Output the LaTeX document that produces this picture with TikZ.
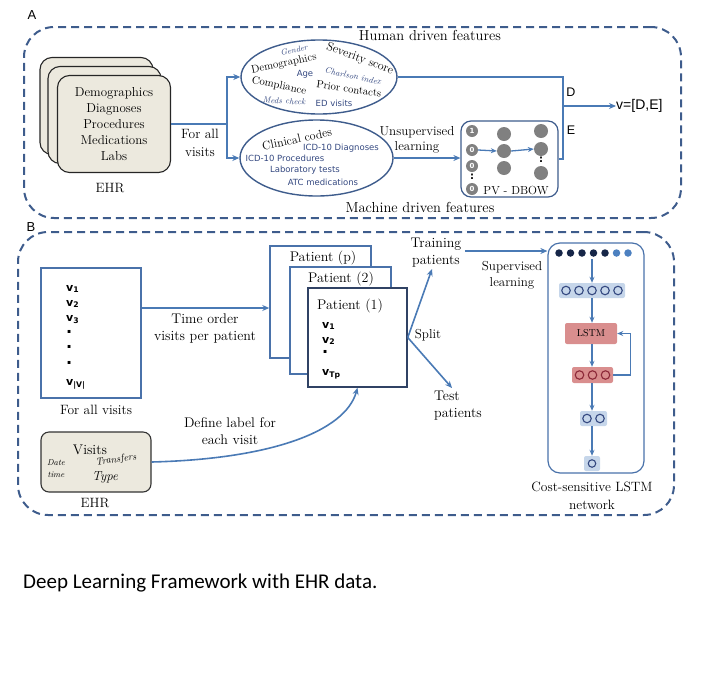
\documentclass[tikz,border=0pt]{standalone}
\usepackage{fontspec}
\usetikzlibrary{arrows.meta,shapes.geometric}
\newfontfamily\dvfont{DejaVu Sans}
\newfontfamily\libfont{Liberation Sans}
\newfontfamily\capfont{Carlito}
\definecolor{frameblue}{RGB}{62,92,140}
\definecolor{lineblue}{RGB}{74,122,181}
\definecolor{txtblue}{RGB}{52,72,128}
\definecolor{beige}{RGB}{236,233,222}
\definecolor{boxblue}{RGB}{198,214,234}
\definecolor{boxpink}{RGB}{217,142,142}
\definecolor{navy}{RGB}{22,38,72}
\definecolor{dotblue}{RGB}{76,128,192}
\definecolor{darkred}{RGB}{140,40,56}
\definecolor{pborder}{RGB}{74,114,170}
\definecolor{pdark}{RGB}{48,66,100}
\newcommand\fs[2]{\fontsize{#1}{#2}\selectfont}
\begin{document}
\begin{tikzpicture}[x=1pt,y=-1pt,
  dashframe/.style={draw=frameblue,line width=2pt,dash pattern=on 8pt off 5pt,rounded corners=30pt,inner sep=0pt},
  conn/.style={draw=lineblue,line width=1.6pt,-{Stealth[length=7pt,width=6pt]}},
  plain/.style={draw=lineblue,line width=1.6pt},
  ehrbox/.style={draw=black!85,line width=1.1pt,fill=beige,rounded corners=12pt,minimum width=113pt,minimum height=97pt,inner sep=0pt},
  feat/.style={ellipse,draw=frameblue,line width=1.4pt,inner sep=0pt},
  bt/.style={text=txtblue,font=\dvfont\fs{8.5}{10},inner sep=0.3pt},
  bi/.style={text=txtblue,font=\itshape\fs{8.5}{10},inner sep=0.3pt},
  st/.style={font=\fs{11}{13},inner sep=0.3pt},
  graydot/.style={circle,fill=black!50,minimum size=12pt,inner sep=0pt,text=white,font=\dvfont\bfseries\fs{7}{7}},
  midot/.style={circle,fill=black!50,minimum size=14pt,inner sep=0pt},
  vdots/.style={font=\dvfont\bfseries\fs{10}{10},inner sep=0pt},
  pbox/.style={draw=pborder,line width=1.5pt,fill=white,inner sep=0pt},
  vis/.style={font=\dvfont\bfseries\fs{11}{12},anchor=west,inner sep=0pt},
  bigdot/.style={font=\dvfont\bfseries\fs{16}{16},anchor=west,inner sep=0pt},
  lay/.style={rounded corners=2pt,inner sep=0pt},
  neur/.style={circle,minimum size=8.5pt,inner sep=0pt,line width=1.1pt},
  ndot/.style={circle,minimum size=7.5pt,inner sep=0pt}
]
\useasboundingbox (0,0) rectangle (706,675);

% ---------------- Panel A ----------------
\node[dashframe,minimum width=657pt,minimum height=191pt] (frameA) at (352.5,122.5) {};
\node[font=\libfont\fs{13}{15}] (labA) at (32,15) {A};

\node[ehrbox] (ehrback) at (96.5,106) {};
\node[ehrbox] (ehrmid) at (104.5,115) {};
\node[ehrbox,align=center,font=\fs{13}{15.8}] (ehrfront) at (114,124) {Demographics\\Diagnoses\\Procedures\\Medications\\Labs};
\node[font=\fs{13.5}{16}] (ehrlab) at (110,188) {EHR};

\node[feat,minimum width=156pt,minimum height=74pt] (ellH) at (319,77) {};
\node[feat,minimum width=153pt,minimum height=76pt] (ellM) at (316.5,158) {};

\coordinate (splitA) at (227,124);
\draw[plain] (ehrfront.east) -- (splitA);
\draw[conn] (splitA) |- (ellH.west);
\draw[conn] (splitA) |- (ellM.west);
\node[align=center,font=\fs{13.5}{18}] (forall) at (200,143) {For all\\visits};

% human features
\node[bi,rotate=12,font=\itshape\fs{8}{9}] (gender) at (294,50) {Gender};
\node[st,rotate=12] (demog) at (284,64) {Demographics};
\node[bt] (age) at (305,74) {Age};
\node[font=\fs{12}{14},rotate=-21,inner sep=0.3pt] (sev) at (360,59) {Severity score};
\node[bi,rotate=-12] (charl) at (353,76) {Charlson index};
\node[st,rotate=-11,font=\fs{10.8}{13}] (compl) at (279,86) {Compliance};
\node[st,rotate=-8,font=\fs{10.6}{13}] (prior) at (349,89) {Prior contacts};
\node[bi,rotate=-3] (meds) at (284,101) {Meds check};
\node[bt] (edv) at (334,103) {ED visits};
\node[font=\fs{14.5}{17}] (human) at (430,35) {Human driven features};

% machine features
\node[font=\fs{12}{14},rotate=12,inner sep=0.3pt] (clin) at (297,139) {Clinical codes};
\node[bt] (icdd) at (341,148) {ICD-10 Diagnoses};
\node[bt] (icdp) at (285,158.5) {ICD-10 Procedures};
\node[bt] (labt) at (305,170) {Laboratory tests};
\node[bt] (atc) at (323,182) {ATC medications};
\node[font=\fs{14.5}{17}] (machine) at (420,207) {Machine driven features};

\node[align=center,font=\fs{13}{15}] (unsup) at (417,140) {Unsupervised\\learning};

% PV-DBOW
\node[draw=frameblue,line width=1.2pt,rounded corners=10pt,minimum width=97pt,minimum height=76pt,inner sep=0pt] (pv) at (509.5,159) {};
\draw[conn] (ellM.east) -- (pv.west |- ellM.east);
\node[graydot] (i1) at (472,131) {1};
\node[graydot] (i2) at (472,150) {0};
\node[graydot] (i3) at (472,166) {0};
\node[vdots] (i4) at (472,177) {:};
\node[graydot] (i5) at (472,189) {0};
\node[midot] (m1) at (504,134) {};
\node[midot] (m2) at (504,151) {};
\node[midot] (m3) at (504,168) {};
\node[midot] (o1) at (541,131) {};
\node[midot] (o2) at (541,149) {};
\node[vdots] (o3) at (541,160) {:};
\node[midot] (o4) at (541,173) {};
\draw[draw=lineblue,line width=1.3pt,-{Stealth[length=6pt,width=5pt]}] (i2.east) -- (m2.west);
\draw[draw=lineblue,line width=1.3pt,-{Stealth[length=6pt,width=5pt]}] (m2.east) -- (o2.west);
\node[font=\fs{11.7}{13}] (pvlab) at (516,190) {PV - DBOW};

% merge
\coordinate (cTop) at (563,77);
\coordinate (cMid) at (563,106);
\coordinate (cBot) at (563,159);
\draw[plain] (ellH.east) -- (cTop) -- (cBot) -- (pv.east);
\node[anchor=west,inner sep=0pt,font=\libfont\fs{14}{16}] (res) at (616,106) {v=[D,E]};
\draw[conn] (cMid) -- (res.west);
\node[font=\libfont\fs{12.5}{14}] (lD) at (571,92) {D};
\node[font=\libfont\fs{12.5}{14}] (lE) at (571,130) {E};

% ---------------- Panel B ----------------
\node[dashframe,minimum width=656pt,minimum height=283pt] (frameB) at (346,373.5) {};
\node[font=\libfont\fs{13}{15}] (labB) at (31,227) {B};

\node[draw=pborder,line width=1.2pt,minimum width=100pt,minimum height=130pt,inner sep=0pt] (visbox) at (91,333) {};
\node[vis] (v1) at (66,289) {v\textsubscript{1}};
\node[vis] (v2) at (66,304) {v\textsubscript{2}};
\node[vis] (v3) at (66,320) {v\textsubscript{3}};
\node[bigdot] (d1) at (66,332) {.};
\node[bigdot] (d2) at (66,347) {.};
\node[bigdot] (d3) at (66,363) {.};
\node[vis] (vV) at (66,384) {v\textsubscript{|V|}};
\node[font=\fs{13.5}{16}] (forallB) at (96,410) {For all visits};

% patients
\node[pbox,minimum width=101pt,minimum height=112pt] (patP) at (320.5,302) {};
\node[pbox,minimum width=101pt,minimum height=107pt] (pat2) at (340.5,320.5) {};
\node[pbox,draw=pdark,minimum width=99pt,minimum height=99pt] (pat1) at (357.5,337.5) {};
\node[font=\fs{14}{16}] (tP) at (323,258) {Patient (p)};
\node[font=\fs{14}{16}] (t2) at (341,279) {Patient (2)};
\node[font=\fs{14}{16}] (t1) at (350,306) {Patient (1)};
\node[vis] (p1) at (322,326) {v\textsubscript{1}};
\node[vis] (p2) at (322,341) {v\textsubscript{2}};
\node[bigdot] (pd) at (322,352) {.};
\node[vis] (pT) at (322,374) {v\textsubscript{Tp}};

\coordinate (tA) at (0,308);
\draw[conn] (visbox.east |- tA) -- (patP.west |- tA);
\node[align=center,font=\fs{14}{17}] (timeord) at (205,328) {Time order\\visits per patient};

% split
\node[align=center,font=\fs{14}{17}] (train) at (436,253) {Training\\patients};
\node[align=left,font=\fs{14}{17}] (test) at (458,406) {Test\\patients};
\node[font=\fs{13}{15}] (split) at (428,335) {Split};
\coordinate (trainEnd) at (432,269);
\coordinate (testEnd) at (452,388);
\draw[conn] (pat1.east) -- (trainEnd);
\draw[conn] (pat1.east) -- (testEnd);

% LSTM network
\node[draw=pborder,line width=1.2pt,rounded corners=12pt,minimum width=96pt,minimum height=230pt,inner sep=0pt] (net) at (596,358) {};
\coordinate (tL) at (0,251);
\draw[conn] (train.east |- tL) -- (net.west |- tL);
\node[align=center,font=\fs{13}{16}] (superv) at (512,275) {Supervised\\learning};

\node[minimum width=76pt,minimum height=8pt,inner sep=0pt] (dotsrow) at (593.5,253) {};
\foreach \i in {0,...,4} {\node[ndot,fill=navy] (dn\i) at (559+11.5*\i,253) {};}
\node[ndot,fill=dotblue] (db1) at (616.5,253) {};
\node[ndot,fill=dotblue] (db2) at (628,253) {};

\node[lay,fill=boxblue,minimum width=66pt,minimum height=15pt] (l1) at (592,290.5) {};
\foreach \i in {0,...,4} {\node[neur,draw=txtblue] (l1n\i) at (566+13*\i,290.5) {};}
\node[lay,fill=boxpink,minimum width=52pt,minimum height=21pt,font=\fs{10}{12}] (lstm) at (591,333.5) {LSTM};
\node[lay,fill=boxpink,minimum width=41pt,minimum height=16pt] (l3) at (592.5,375) {};
\foreach \i in {0,...,2} {\node[neur,draw=darkred] (l3n\i) at (579.5+13*\i,375) {};}
\node[lay,fill=boxblue,minimum width=27pt,minimum height=15pt] (l4) at (593.5,418.5) {};
\node[neur,draw=txtblue] (l4n0) at (587,418.5) {};
\node[neur,draw=txtblue] (l4n1) at (600,418.5) {};
\node[lay,fill=boxblue,minimum width=16pt,minimum height=15pt] (l5) at (592,463.5) {};
\node[neur,draw=txtblue,minimum size=7.5pt] (l5n0) at (592,463.5) {};

\tikzset{nconn/.style={draw=lineblue,line width=1.3pt,-{Stealth[length=6pt,width=5pt]}}}
\draw[nconn] (dotsrow.south -| l1.north) ++(0,2) -- (l1.north);
\draw[nconn] (l1.south) -- (l1.south |- lstm.north);
\draw[nconn] (l1.south |- lstm.south) -- (l1.south |- l3.north);
\draw[nconn] (l1.south |- l3.south) -- (l1.south |- l4.north);
\draw[nconn] (l1.south |- l4.south) -- (l1.south |- l5.north);
\draw[nconn] (l3.east) -- ++(17,0) |- (lstm.east);
\node[align=center,font=\fs{13.5}{18}] (netlab) at (592,496) {Cost-sensitive LSTM\\network};

% EHR visits
\node[draw=black!80,line width=1.1pt,fill=beige,rounded corners=8pt,minimum width=110pt,minimum height=60pt,inner sep=0pt] (ehrv) at (96,462) {};
\node[font=\fs{14}{16}] (visits) at (90,450) {Visits};
\node[font=\itshape\fs{8.5}{10}] (date) at (56,463) {Date};
\node[font=\itshape\fs{8.5}{10}] (time) at (56,475) {time};
\node[font=\itshape\fs{10}{12},rotate=8] (transf) at (116,460) {Transfers};
\node[font=\itshape\fs{13}{15}] (type) at (105,477) {Type};
\node[font=\fs{13.5}{16}] (ehrlabB) at (95,503) {EHR};

\draw[conn] (ehrv.east) .. controls (270,459) and (345,432) .. (pat1.south);
\node[align=center,font=\fs{14}{17}] (deflab) at (230,431) {Define label for\\each visit};

% caption
\node[anchor=west,inner sep=0pt,font=\capfont\fs{21}{25}] (caption) at (23,583) {Deep Learning Framework with EHR data.};
\end{tikzpicture}
\end{document}
